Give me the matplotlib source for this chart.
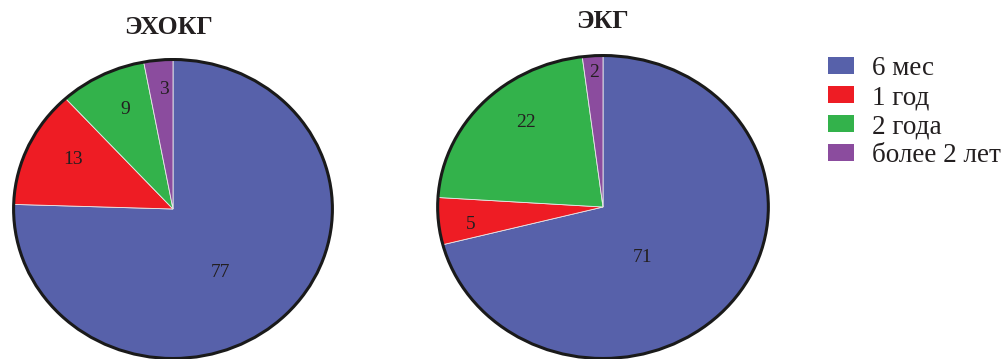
import numpy as np
import matplotlib.pyplot as plt
from matplotlib.patches import Ellipse, Patch

# доли пациентов по срокам наблюдения
categories = ['6 мес', '1 год', '2 года', 'более 2 лет']
echo_vals = [77, 13, 9, 3]
ecg_vals = [71, 5, 22, 2]
titles = ['ЭХОКГ', 'ЭКГ']

colors = ['#5761AA', '#EE1C24', '#33B24B', '#8B4C9E']

# положение подписей: доля радиуса и поворот от середины сектора (град.)
echo_lab = [(0.52, -9), (0.71, -3), (0.73, -2), (0.80, -1)]
ecg_lab = [(0.41, -16), (0.81, 3), (0.73, -7), (0.89, 0)]

plt.rcParams['font.family'] = ['Liberation Serif', 'DejaVu Serif']

W, H = 1007, 359
fig = plt.figure(figsize=(W / 100, H / 100), dpi=100)


def pie(cx, cy, rx, ry, vals, labs, title, tx, ty):
    ax = fig.add_axes([(cx - rx) / W, (H - cy - ry) / H, 2 * rx / W, 2 * ry / H])
    wedges, _ = ax.pie(vals, colors=colors, startangle=90, counterclock=False,
                       radius=1, wedgeprops=dict(linewidth=0.6, edgecolor='#e8e8e8'))
    ax.add_patch(Ellipse((0, 0), 2, 2, fill=False, edgecolor='#1a1a1a', lw=2.2))
    for w, v, (r, d) in zip(wedges, vals, labs):
        a = np.deg2rad((w.theta1 + w.theta2) / 2 + d)
        ax.text(r * np.cos(a), r * np.sin(a), str(v), ha='center', va='center',
                fontsize=14, color='#231f20')
    ax.set_aspect('auto')
    ax.set_xlim(-1.01, 1.01)
    ax.set_ylim(-1.01, 1.01)
    ax.axis('off')
    fig.text(tx / W, 1 - ty / H, title, ha='center', va='center',
             fontsize=18.5, fontweight='bold', color='#231f20')


pie(173, 209, 161, 151, echo_vals, echo_lab, titles[0], 169, 27)
pie(603, 207, 167, 153, ecg_vals, ecg_lab, titles[1], 602, 22)

handles = [Patch(facecolor=c, edgecolor='none') for c in colors]
leg = fig.legend(handles, categories, loc='upper left', bbox_to_anchor=(828 / W, 1 - 56 / H),
                 frameon=False, fontsize=19.5, handlelength=0.96, handleheight=0.56,
                 handletextpad=0.67, labelspacing=0.15, borderpad=0, borderaxespad=0)
for t in leg.get_texts():
    t.set_color('#231f20')

fig.savefig('out.png', dpi=100)
